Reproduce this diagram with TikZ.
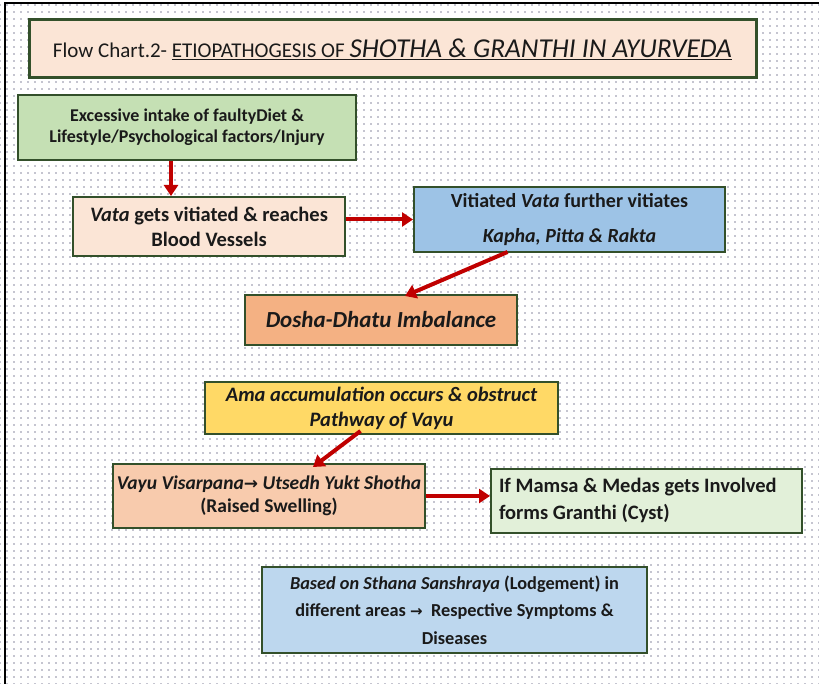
\documentclass[tikz,border=0pt]{standalone}
\usepackage{fontspec}
\setmainfont{Carlito}
\newfontfamily\symfont{DejaVu Sans}
\usetikzlibrary{arrows.meta,patterns,calc}
\pgfdeclarepatternformonly{bgdots}{\pgfpoint{-1pt}{-1pt}}{\pgfpoint{1pt}{1pt}}{\pgfpoint{7pt}{7pt}}{\pgfpathcircle{\pgfpoint{0pt}{0pt}}{0.85pt}\pgfusepath{fill}}
\definecolor{dotgray}{HTML}{8A8AA0}
\definecolor{bordergreen}{HTML}{33502A}
\definecolor{arrowred}{HTML}{C00000}
\definecolor{peachA}{HTML}{FBE5D6}
\definecolor{greenA}{HTML}{C5E0B4}
\definecolor{blueA}{HTML}{9DC3E6}
\definecolor{salmonA}{HTML}{F4B183}
\definecolor{yellowA}{HTML}{FFD966}
\definecolor{peachB}{HTML}{F8CBAD}
\definecolor{greenB}{HTML}{E2F0D9}
\definecolor{blueB}{HTML}{BDD7EE}
\definecolor{inkA}{HTML}{1A1A1A}
\newcommand{\fsz}[2]{\fontsize{#1}{#2}\selectfont}
\begin{document}
\begin{tikzpicture}[x=1pt,y=-1pt,
  boxA/.style={draw=bordergreen, line width=2pt, inner sep=0pt, align=center, text=inkA},
  arr/.style={draw=arrowred, line width=4pt, -{Triangle[length=11pt,width=14pt]}}]
\useasboundingbox (0,0) rectangle (819,684);
\fill[white] (0,0) rectangle (819,684);
\fill[pattern=bgdots, pattern color=dotgray] (0,0) rectangle (819,684);
\draw[black, line width=1.2pt] (5,684) -- (5,3) -- (819,3);

\node[boxA, line width=3pt, fill=peachA, minimum width=727pt, minimum height=58pt] (title) at (392.5,49)
  {\fsz{21}{24}Flow Chart.2- \underline{ETIOPATHOGESIS OF }\underline{\itshape\fsz{27.3}{32}SHOTHA \& GRANTHI IN AYURVEDA}};

\node[boxA, fill=greenA, minimum width=338pt, minimum height=65pt, font=\bfseries\fsz{18}{21}] (b1) at (187,127.5)
  {Excessive intake of faultyDiet \&\\Lifestyle/Psychological factors/Injury};

\node[boxA, fill=peachA, minimum width=272pt, minimum height=59pt, font=\bfseries\fsz{20.5}{25}] (b2) at (209,226.5)
  {\textit{Vata} gets vitiated \& reaches\\Blood Vessels};

\node[boxA, fill=blueA, minimum width=311pt, minimum height=65pt, font=\bfseries\fsz{20}{23}] (b3) at (569.5,219.5)
  {Vitiated \textit{Vata} further vitiates\\[12pt]\textit{Kapha, Pitta \& Rakta}};

\node[boxA, fill=salmonA, minimum width=272pt, minimum height=50pt, font=\bfseries\itshape\fsz{23}{27}] (dosha) at (381,320)
  {Dosha-Dhatu Imbalance};

\node[boxA, fill=yellowA, minimum width=353pt, minimum height=52pt, font=\bfseries\itshape\fsz{20.5}{25}] (ama) at (381.5,408)
  {Ama accumulation occurs \& obstruct\\Pathway of Vayu};

\node[boxA, fill=peachB, minimum width=312pt, minimum height=64pt, font=\bfseries\fsz{19.5}{23}] (vayu) at (269,496)
  {\textit{Vayu Visarpana{\symfont\fsz{17}{23}→} Utsedh Yukt Shotha}\\(Raised Swelling)};

\node[boxA, fill=greenB, minimum width=311pt, minimum height=64pt, font=\bfseries\fsz{20.5}{27}] (g2) at (646.5,501)
  {\makebox[295pt][l]{\begin{tabular}{@{}l@{}}If Mamsa \& Medas gets Involved\\forms Granthi (Cyst)\end{tabular}}};

\node[boxA, fill=blueB, minimum width=385pt, minimum height=86pt, font=\bfseries\fsz{18.3}{27.5}] (bot) at (454.5,610)
  {\textit{Based on Sthana Sanshraya} (Lodgement) in\\different areas {\symfont\fsz{15}{27.5}→}\ \ Respective Symptoms \&\\Diseases};

\draw[arr] ([xshift=-16pt]b1.south) -- ([xshift=-38pt]b2.north);
\draw[arr] (b2.east |- b3.west) -- (b3.west);
\draw[arr] ([xshift=-62pt,yshift=1pt]b3.south) -- ([xshift=24pt,yshift=-2pt]dosha.north);
\draw[arr] ([xshift=-21pt,yshift=4pt]ama.south) -- ([xshift=44pt,yshift=-4pt]vayu.north);
\draw[arr] (vayu.east) -- (vayu.east -| g2.west);
\end{tikzpicture}
\end{document}
